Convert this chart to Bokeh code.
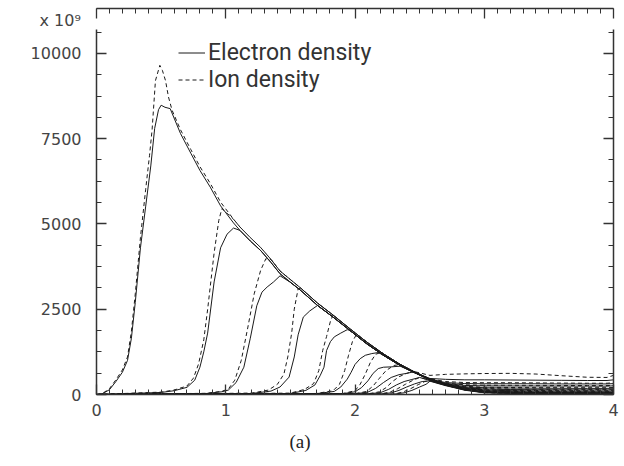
from bokeh.plotting import figure
from bokeh.models import (Range1d, LinearAxis, SingleIntervalTicker, Legend, Title,
                          LegendItem, CustomJSTickFormatter, ColumnDataSource)
from bokeh.embed import file_html
from bokeh.resources import INLINE

# ---------------- data (units of 1e9) ----------------
# common envelope behind the fronts
env_x = [0.57, 0.65, 0.73, 0.80, 0.88, 0.96, 1.06, 1.11, 1.19, 1.27, 1.35, 1.42, 1.50,
         1.58, 1.71, 1.83, 1.96, 2.09, 2.22, 2.35, 2.45]
env_e = [8380, 7650, 7070, 6570, 6080, 5530, 5030, 4810, 4500, 4220, 3870, 3540, 3290,
         3050, 2610, 2270, 1880, 1490, 1150, 850, 660]
env_i = [8450, 7760, 7180, 6680, 6190, 5640, 5140, 4910, 4600, 4310, 3960, 3620, 3370,
         3120, 2680, 2330, 1930, 1540, 1190, 880, 680]

# far region (x > 2.5)
tail_x = [2.58, 2.70, 2.85, 3.00, 3.20, 3.40, 3.60, 3.80, 3.95, 4.00]

# fronts of the successive snapshots: electrons
front_e_x = [
    [0, 0.05, 0.10, 0.15, 0.20, 0.24, 0.27, 0.30, 0.34, 0.38, 0.42, 0.45, 0.48, 0.50, 0.53],
    [0, 0.50, 0.60, 0.70, 0.76, 0.80, 0.83, 0.86, 0.91, 0.96, 1.01, 1.06],
    [0, 0.85, 0.97, 1.02, 1.08, 1.14, 1.19, 1.24, 1.28, 1.32, 1.37, 1.42],
    [0, 1.20, 1.35, 1.42, 1.49, 1.53, 1.56, 1.60, 1.65, 1.71],
    [0, 1.50, 1.62, 1.69, 1.73, 1.76, 1.78, 1.81, 1.84, 1.89, 1.94],
    [0, 1.70, 1.84, 1.89, 1.94, 1.97, 2.00, 2.04, 2.08, 2.13, 2.18],
    [0, 1.90, 2.00, 2.05, 2.10, 2.14, 2.18, 2.22, 2.28, 2.35],
    [0, 2.00, 2.10, 2.16, 2.22, 2.28, 2.34, 2.40, 2.45],
    [0, 2.10, 2.20, 2.26, 2.32, 2.38, 2.44, 2.50],
    [0, 2.20, 2.28, 2.34, 2.40, 2.46, 2.52],
    [0, 2.30, 2.38, 2.44, 2.50, 2.55],
]
front_e_y = [
    [0, 30, 140, 380, 650, 1000, 1650, 2700, 4300, 5500, 6700, 7800, 8350, 8480, 8420],
    [0, 60, 110, 210, 420, 800, 1250, 1800, 3300, 4300, 4700, 4880],
    [0, 30, 80, 130, 350, 800, 1650, 2600, 3000, 3150, 3300, 3480],
    [0, 30, 100, 220, 510, 1100, 1750, 2270, 2450, 2610],
    [0, 30, 120, 280, 550, 800, 1290, 1550, 1690, 1800, 1900],
    [0, 25, 90, 220, 450, 650, 880, 1050, 1150, 1200, 1230],
    [0, 20, 80, 200, 400, 620, 760, 800, 810, 830],
    [0, 20, 70, 180, 350, 500, 580, 620, 660],
    [0, 15, 60, 150, 280, 380, 440, 500],
    [0, 15, 50, 120, 220, 310, 380],
    [0, 10, 50, 120, 220, 300],
]
# fronts: ions
front_i_x = [
    [0, 0.05, 0.10, 0.15, 0.20, 0.24, 0.27, 0.30, 0.34, 0.38, 0.41, 0.43, 0.456, 0.49,
     0.51, 0.534, 0.557, 0.585],
    [0, 0.50, 0.60, 0.70, 0.75, 0.79, 0.83, 0.86, 0.91, 0.946, 0.97],
    [0, 0.85, 0.97, 1.02, 1.07, 1.12, 1.17, 1.22, 1.27, 1.31],
    [0, 1.20, 1.33, 1.40, 1.45, 1.48, 1.51, 1.53, 1.56],
    [0, 1.50, 1.61, 1.68, 1.72, 1.75, 1.78, 1.81, 1.83],
    [0, 1.70, 1.83, 1.88, 1.92, 1.95, 1.98, 2.01, 2.04],
    [0, 1.90, 2.00, 2.04, 2.08, 2.12, 2.16, 2.20],
    [0, 2.00, 2.09, 2.14, 2.19, 2.24, 2.30, 2.35],
    [0, 2.10, 2.19, 2.24, 2.29, 2.34, 2.40, 2.45],
    [0, 2.20, 2.27, 2.33, 2.39, 2.45, 2.50],
    [0, 2.30, 2.37, 2.43, 2.49, 2.54],
]
front_i_y = [
    [0, 40, 170, 430, 720, 1100, 1850, 2950, 4600, 6000, 7000, 7750, 9200, 9650,
     9500, 9200, 8720, 8330],
    [0, 70, 130, 250, 480, 900, 1600, 2500, 4150, 5100, 5450],
    [0, 35, 95, 160, 420, 1000, 1950, 2950, 3640, 3980],
    [0, 40, 130, 300, 600, 1100, 1800, 2500, 3100],
    [0, 40, 150, 320, 700, 1290, 1700, 2150, 2330],
    [0, 30, 110, 300, 700, 1150, 1550, 1750, 1680],
    [0, 25, 110, 300, 600, 950, 1180, 1230],
    [0, 25, 90, 250, 480, 700, 850, 880],
    [0, 20, 80, 200, 380, 520, 620, 680],
    [0, 20, 70, 170, 300, 420, 500],
    [0, 15, 70, 170, 290, 380],
]
tail_e = [
    [470, 445, 430, 430, 425, 420, 415, 410, 410, 430],
    [450, 350, 320, 315, 315, 315, 310, 310, 310, 320],
    [450, 325, 265, 252, 250, 248, 246, 245, 245, 255],
    [445, 310, 225, 198, 190, 185, 182, 180, 180, 185],
    [440, 300, 200, 160, 145, 140, 137, 135, 135, 140],
    [435, 290, 185, 130, 112, 106, 102, 100, 100, 105],
    [430, 285, 170, 105, 84, 78, 75, 74, 74, 78],
    [420, 280, 155, 88, 64, 58, 56, 55, 55, 58],
    [410, 275, 145, 72, 50, 43, 41, 40, 40, 43],
    [400, 270, 135, 60, 38, 32, 30, 29, 29, 31],
    [390, 260, 125, 50, 28, 22, 20, 19, 19, 21],
]
tail_i = [
    [560, 590, 605, 615, 620, 600, 550, 505, 500, 560],
    [460, 380, 350, 345, 345, 340, 335, 330, 330, 345],
    [455, 335, 285, 272, 270, 268, 265, 262, 262, 272],
    [450, 320, 240, 212, 205, 200, 200, 198, 198, 205],
    [445, 310, 215, 175, 160, 155, 152, 150, 150, 157],
    [440, 300, 195, 140, 122, 116, 112, 110, 110, 116],
    [435, 295, 180, 115, 92, 86, 83, 82, 82, 86],
    [430, 290, 165, 95, 70, 64, 62, 61, 61, 64],
    [425, 285, 150, 80, 55, 48, 46, 45, 45, 48],
    [420, 280, 140, 65, 42, 36, 34, 33, 33, 36],
    [410, 275, 130, 55, 32, 26, 24, 23, 23, 26],
]

legend_labels = ["Electron density", "Ion density"]
y_ticks_interval = 2500
scale_text = "x 10\u2079"
caption = "(a)"


def build(fx, fy, ey, ty):
    xs, ys = list(fx), list(fy)
    end = fx[-1]
    for x, y in zip(env_x, ey):
        if end < x < tail_x[0]:
            xs.append(x); ys.append(y)
    for x, y in zip(tail_x, ty):
        if x > end:
            xs.append(x); ys.append(y)
    return xs, ys


e_xs, e_ys, i_xs, i_ys = [], [], [], []
for k in range(len(front_e_x)):
    xs, ys = build(front_e_x[k], front_e_y[k], env_e, tail_e[k])
    e_xs.append(xs); e_ys.append(ys)
    xs, ys = build(front_i_x[k], front_i_y[k], env_i, tail_i[k])
    i_xs.append(xs); i_ys.append(ys)

# ---------------- figure ----------------
p = figure(width=624, height=466, output_backend="svg", toolbar_location=None,
           x_range=Range1d(0, 4), y_range=Range1d(0, 10700),
           min_border_left=96, min_border_right=11, min_border_top=29, min_border_bottom=72)
p.grid.grid_line_color = None
p.outline_line_color = None
p.background_fill_color = "white"
p.border_fill_color = "white"

ink = "#1a1a1a"
tick_font = "DejaVu Sans"

src_e = ColumnDataSource(dict(xs=e_xs, ys=e_ys))
src_i = ColumnDataSource(dict(xs=i_xs, ys=i_ys))
r_i = p.multi_line("xs", "ys", source=src_i, line_color=ink, line_width=1, line_dash="4 3")
r_e = p.multi_line("xs", "ys", source=src_e, line_color=ink, line_width=1)

xt = SingleIntervalTicker(interval=1, num_minor_ticks=10)
yt = SingleIntervalTicker(interval=y_ticks_interval, num_minor_ticks=4)


def style(ax):
    ax.major_tick_in = 10
    ax.major_tick_out = 0
    ax.minor_tick_in = 5
    ax.minor_tick_out = 0
    ax.axis_line_width = 1.5
    ax.axis_line_color = "#333333"
    ax.major_tick_line_color = "#333333"
    ax.minor_tick_line_color = "#333333"
    ax.major_tick_line_width = 1.3
    ax.minor_tick_line_width = 1
    ax.major_label_text_font = tick_font
    ax.major_label_text_font_size = "16px"
    ax.major_label_text_color = "#444444"


xa = p.xaxis[0]
xa.ticker = xt
style(xa)
xa.major_label_standoff = 9

ya = p.yaxis[0]
ya.ticker = yt
style(ya)
ya.major_label_standoff = 15

blank = CustomJSTickFormatter(code="return ''")
top = LinearAxis(ticker=xt, formatter=blank)
style(top)
top.major_label_standoff = 0
top.major_label_text_font_size = "1px"
right = LinearAxis(ticker=yt, formatter=blank)
style(right)
right.major_label_standoff = 0
right.major_label_text_font_size = "1px"
p.add_layout(right, "right")

# scale label above, caption below (as titles in the border panels)
p.add_layout(Title(text=scale_text, align="left", offset=-57, standoff=0,
                   text_font=tick_font, text_font_size="16px", text_font_style="normal",
                   text_color="#444444"), "above")
p.add_layout(top, "above")
p.add_layout(Title(text=caption, align="left", offset=193, standoff=20,
                   text_font="Liberation Serif", text_font_size="19px",
                   text_font_style="normal", text_color="#222222"), "below")

legend = Legend(items=[LegendItem(label=legend_labels[0], renderers=[r_e]),
                       LegendItem(label=legend_labels[1], renderers=[r_i])],
                location=(82, 301), padding=0, spacing=0, margin=0,
                glyph_width=27, glyph_height=27, label_height=27, label_standoff=3,
                label_text_font="Roboto", label_text_font_size="23px",
                label_text_color="#333333", border_line_color=None,
                background_fill_alpha=0)
p.add_layout(legend, "center")

open("out.html", "w").write(file_html(p, INLINE))
